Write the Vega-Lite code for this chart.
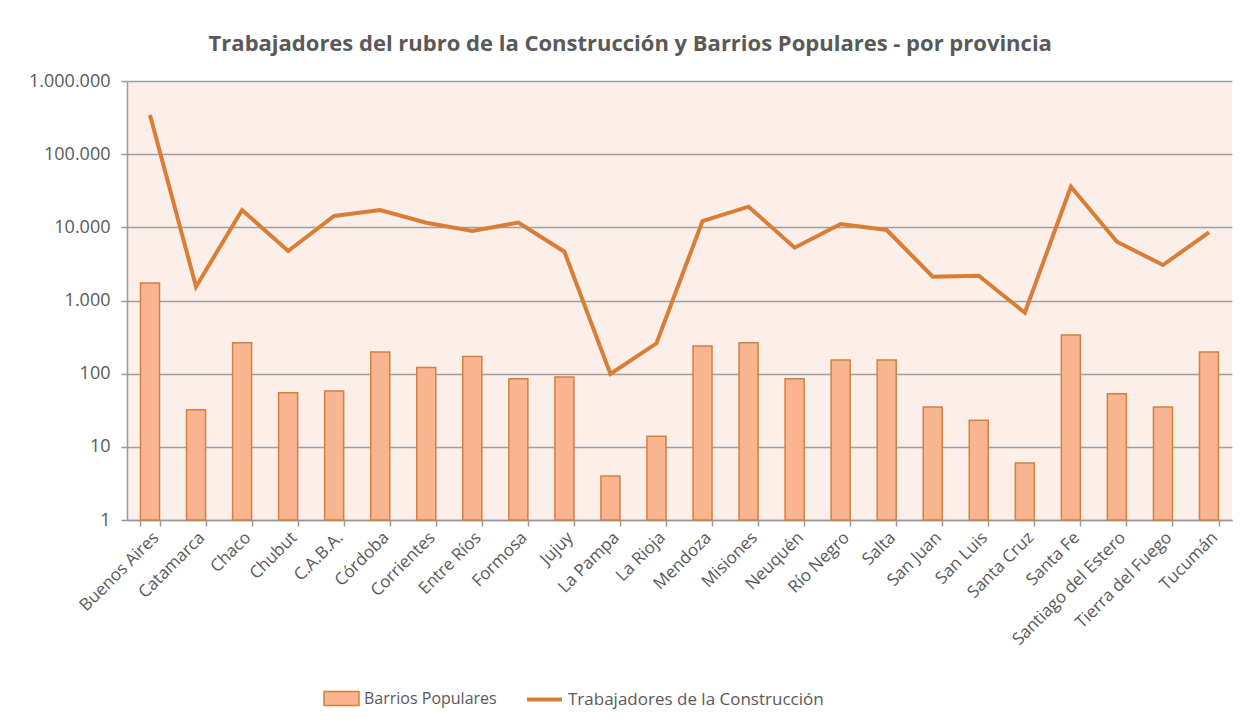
{
  "$schema": "https://vega.github.io/schema/vega-lite/v6.json",
  "width": 1105,
  "height": 439,
  "autosize": {"type": "none"},
  "padding": {"left": 127, "top": 81, "right": 20, "bottom": 205},
  "background": "white",
  "title": {
    "text": "Trabajadores  del rubro de la Construcción y Barrios Populares - por provincia",
    "font": "Open Sans",
    "fontSize": 22,
    "fontWeight": "bold",
    "color": "#595959",
    "frame": "bounds",
    "anchor": "middle",
    "offset": 16
  },
  "config": {
    "locale": {"number": {"decimal": ",", "thousands": ".", "grouping": [3], "currency": ["$", ""]}},
    "view": {"fill": "#FCEEE9", "stroke": null},
    "axis": {
      "labelFont": "Open Sans",
      "labelFontSize": 17,
      "labelColor": "#595959",
      "domainColor": "#9A9A9A",
      "domainWidth": 1.5,
      "tickColor": "#9A9A9A",
      "tickWidth": 1.5,
      "tickSize": 6,
      "gridColor": "#A0A0A0",
      "gridWidth": 1.5,
      "title": null
    },
    "legend": {
      "labelFont": "Open Sans",
      "labelFontSize": 16,
      "labelColor": "#595959",
      "labelLimit": 500,
      "title": null
    }
  },
  "data": {
    "values": [
      {"provincia": "Buenos Aires", "barrios": 1730, "trabajadores": 343000},
      {"provincia": "Catamarca", "barrios": 32, "trabajadores": 1545},
      {"provincia": "Chaco", "barrios": 265, "trabajadores": 17250},
      {"provincia": "Chubut", "barrios": 55, "trabajadores": 4750},
      {"provincia": "C.A.B.A.", "barrios": 58, "trabajadores": 14280},
      {"provincia": "Córdoba", "barrios": 198, "trabajadores": 17250},
      {"provincia": "Corrientes", "barrios": 121, "trabajadores": 11570},
      {"provincia": "Entre Ríos", "barrios": 171, "trabajadores": 8910},
      {"provincia": "Formosa", "barrios": 85, "trabajadores": 11600},
      {"provincia": "Jujuy", "barrios": 90, "trabajadores": 4645},
      {"provincia": "La Pampa", "barrios": 4, "trabajadores": 99},
      {"provincia": "La Rioja", "barrios": 14, "trabajadores": 260},
      {"provincia": "Mendoza", "barrios": 239, "trabajadores": 12200},
      {"provincia": "Misiones", "barrios": 265, "trabajadores": 19150},
      {"provincia": "Neuquén", "barrios": 85, "trabajadores": 5270},
      {"provincia": "Río Negro", "barrios": 154, "trabajadores": 11100},
      {"provincia": "Salta", "barrios": 154, "trabajadores": 9190},
      {"provincia": "San Juan", "barrios": 35, "trabajadores": 2115},
      {"provincia": "San Luis", "barrios": 23, "trabajadores": 2180},
      {"provincia": "Santa Cruz", "barrios": 6, "trabajadores": 681},
      {"provincia": "Santa Fe", "barrios": 338, "trabajadores": 35900},
      {"provincia": "Santiago del Estero", "barrios": 53, "trabajadores": 6370},
      {"provincia": "Tierra del Fuego", "barrios": 35, "trabajadores": 3055},
      {"provincia": "Tucumán", "barrios": 198, "trabajadores": 8550}
    ]
  },
  "encoding": {
    "x": {
      "field": "provincia",
      "type": "nominal",
      "sort": null,
      "scale": {"paddingInner": 0.587, "paddingOuter": 0.293},
      "axis": {
        "labelAngle": -45,
        "labelAlign": "right",
        "labelBaseline": "top",
        "labelPadding": 3,
        "tickBand": "extent",
        "grid": false
      }
    }
  },
  "layer": [
    {
      "mark": {"type": "bar", "stroke": "#D4803F", "strokeWidth": 1.5},
      "encoding": {
        "y": {
          "field": "barrios",
          "type": "quantitative",
          "scale": {"type": "log", "domain": [1, 1000000]},
          "axis": {
            "values": [1, 10, 100, 1000, 10000, 100000, 1000000],
            "format": ",d",
            "grid": true,
            "labelPadding": 11,
            "labelFontSize": 18
          }
        },
        "y2": {"datum": 1},
        "fill": {
          "datum": "Barrios Populares",
          "type": "nominal",
          "scale": {"range": ["#F8B58F"]},
          "legend": {
            "orient": "none",
            "legendX": 196,
            "legendY": 599,
            "symbolType": "M-1,-0.4H1V0.4H-1Z",
            "symbolSize": 1225,
            "symbolStrokeColor": "#D4803F",
            "symbolStrokeWidth": 1.5,
            "labelOffset": 4
          }
        }
      }
    },
    {
      "mark": {"type": "line", "strokeWidth": 4, "strokeJoin": "miter", "color": "#D97E34"},
      "encoding": {
        "y": {"field": "trabajadores", "type": "quantitative"},
        "stroke": {
          "datum": "Trabajadores de la Construcción",
          "type": "nominal",
          "scale": {"range": ["#D97E34"]},
          "legend": {
            "orient": "none",
            "legendX": 398,
            "legendY": 599,
            "symbolType": "stroke",
            "symbolSize": 1225,
            "symbolStrokeWidth": 4,
            "labelOffset": 4,
            "labelFontSize": 17
          }
        }
      }
    }
  ]
}
